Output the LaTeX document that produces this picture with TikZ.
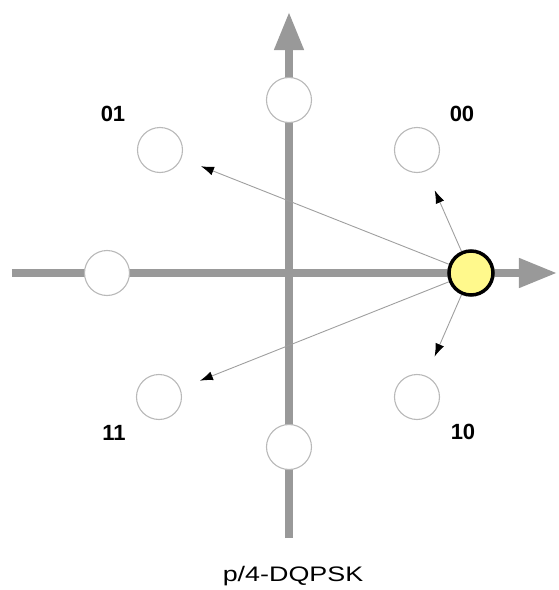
\documentclass[tikz,border=0pt]{standalone}
\usepackage{fontspec}
\setmainfont{Liberation Sans}
\usetikzlibrary{arrows.meta}

\begin{document}
\begin{tikzpicture}[x=1pt,y=1pt,
  axis/.style={line width=7.5pt,gray!80,-{Triangle[length=38pt,width=28pt]}},
  ptc/.style={circle,draw=gray!55,line width=1.1pt,fill=white,minimum size=45pt,inner sep=0pt},
  curpt/.style={circle,draw=black,line width=3.5pt,fill=yellow!45,minimum size=44pt,inner sep=0pt},
  jump/.style={gray!75,line width=0.9pt,shorten >=21pt,-{Latex[black,length=13pt,width=9pt]}},
  lbl/.style={font=\bfseries\fontsize{22}{26}\selectfont}]
\useasboundingbox (-289,-317) rectangle (270,273);
% axes
\draw[axis] (-277,0)--(268,0);
\draw[axis] (0,-265)--(0,261);
% constellation points
\node[ptc] (top)  at (0,173)     {};
\node[ptc] (left) at (-182,0)    {};
\node[ptc] (bot)  at (0,-174)    {};
\node[ptc] (p00)  at (128,123)   {};
\node[ptc] (p01)  at (-129,123)  {};
\node[ptc] (p11)  at (-130,-124) {};
\node[ptc] (p10)  at (128,-124)  {};
\node[curpt] (cur) at (182,0)    {};
% phase jumps
\foreach \p in {p00,p01,p11,p10}{
  \draw[jump] (cur)--(\p);}
% symbols
\node[lbl] (l01) at (-176,159) {01};
\node[lbl] (l00) at (173,159)  {00};
\node[lbl] (l11) at (-175,-160){11};
\node[lbl] (l10) at (174,-159) {10};
\node[font=\fontsize{21}{25}\selectfont,xscale=1.28] (title) at (4,-303) {p/4-DQPSK};
\end{tikzpicture}
\end{document}
